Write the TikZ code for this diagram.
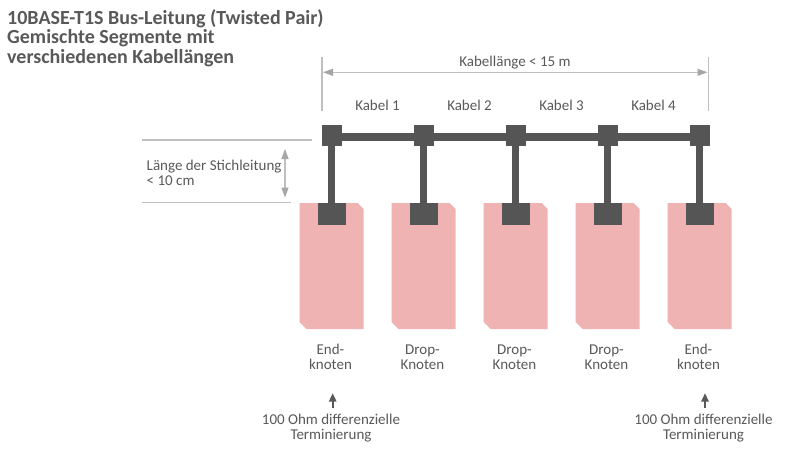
\documentclass[tikz,border=0pt]{standalone}
\usepackage{fontspec}
\setmainfont{Carlito}
\usetikzlibrary{arrows.meta,backgrounds}
\definecolor{txt}{HTML}{595959}
\definecolor{bus}{HTML}{555555}
\definecolor{dev}{HTML}{F0B3B3}
\definecolor{dimline}{HTML}{BFBFBF}
\definecolor{dimhead}{HTML}{A6A6A6}
\begin{document}
\begin{tikzpicture}[x=1pt,y=-1pt,
  lbl/.style={font=\fontsize{15}{15}\selectfont, text=txt, inner sep=0pt, align=center},
  topsq/.style={fill=bus, minimum width=20pt, minimum height=21pt, inner sep=0pt},
  botsq/.style={fill=bus, minimum width=28pt, minimum height=22pt, inner sep=0pt},
  wire/.style={draw=bus, line width=7.4pt},
  dimln/.style={draw=dimline, line width=1.2pt},
  dimarrow/.style={draw=dimline, line width=1.2pt,
    {Triangle[length=10pt,width=7pt,color=dimhead]}-{Triangle[length=10pt,width=7pt,color=dimhead]}},
  termarrow/.style={draw=txt, line width=1.6pt, -{Triangle[length=8.5pt,width=7.5pt]}}
]
\useasboundingbox (0,0) rectangle (800,450);

% title
\node[anchor=west, font=\fontsize{20}{19.5}\selectfont\bfseries, text=txt, align=left, inner sep=0pt]
  (title) at (7,38) {10BASE-T1S Bus-Leitung (Twisted Pair)\\Gemischte Segmente mit\\verschiedenen Kabellängen};

% connector squares
\foreach \i in {1,...,5} {
  \pgfmathsetmacro\cx{331.5+92*(\i-1)}
  \node[topsq] (t\i) at (\cx,135.8) {};
  \node[botsq] (b\i) at (\cx,214) {};
}

\begin{scope}[on background layer]
  \fill[white] (0,0) rectangle (800,450);
  \foreach \i in {1,...,5} {
    \pgfmathsetmacro\cx{331.5+92*(\i-1)}
    \fill[dev] (\cx-32,203) -- (\cx+26,203) -- (\cx+32,209) -- (\cx+32,329)
      -- (\cx-25,329) -- (\cx-32,322) -- cycle;
  }
  \draw[wire] ([yshift=-1.2pt]t1.center) -- ([yshift=-1.2pt]t5.center);
  \foreach \i in {1,...,5} {
    \draw[wire] (t\i.center) -- (b\i.center);
  }
\end{scope}

% overall cable length dimension
\coordinate (vl1) at (322,56.7);  \coordinate (vl2) at (322,110.7);
\coordinate (vr1) at (708.3,56.7); \coordinate (vr2) at (708.3,110.7);
\draw[dimln] (vl1) -- (vl2);
\draw[dimln] (vr1) -- (vr2);
\coordinate (dl) at (323,72.3); \coordinate (dr) at (707.5,72.3);
\draw[dimarrow] (dl) -- (dr);
\node[lbl, anchor=base] (klen) at (515,66) {Kabellänge < 15 m};

% cable labels
\foreach \i in {1,...,4} {
  \node[lbl, anchor=base] (k\i) at (377.5+92*\i-92,110) {Kabel \i};
}

% stub length dimension
\coordinate (hl1) at (142,140); \coordinate (hl2) at (312,140);
\coordinate (hb1) at (142,202.3); \coordinate (hb2) at (291,202.3);
\draw[dimln] (hl1) -- (hl2);
\draw[dimln] (hb1) -- (hb2);
\coordinate (sa) at (285,149); \coordinate (sb) at (285,197.5);
\draw[dimarrow] (sa) -- (sb);
\node[lbl, anchor=west, align=left] (stub) at (146.5,173) {Länge der Stichleitung\\< 10 cm};

% node labels
\node[lbl] (n1) at (330.5,356.8) {End-\\knoten};
\node[lbl] (n2) at (422.5,356.8) {Drop-\\Knoten};
\node[lbl] (n3) at (514.5,356.8) {Drop-\\Knoten};
\node[lbl] (n4) at (606.5,356.8) {Drop-\\Knoten};
\node[lbl] (n5) at (698.5,356.8) {End-\\knoten};

% terminations
\node[lbl] (term1) at (331,427.9) {100 Ohm differenzielle\\Terminierung};
\node[lbl] (term5) at (703.5,427.9) {100 Ohm differenzielle\\Terminierung};
\path (term1.north) ++(1.7,-6) coordinate (a1s) ++(0,-14.5) coordinate (a1e);
\path (term5.north) ++(1.5,-6) coordinate (a5s) ++(0,-14.5) coordinate (a5e);
\draw[termarrow] (a1s) -- (a1e);
\draw[termarrow] (a5s) -- (a5e);
\end{tikzpicture}
\end{document}
